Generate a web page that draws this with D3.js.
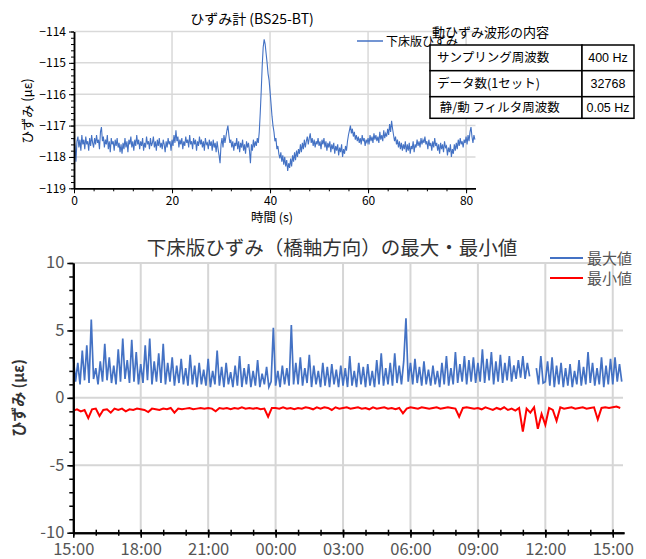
<!DOCTYPE html>
<html>
<head>
<meta charset="utf-8">
<script src="https://cdn.jsdelivr.net/npm/d3@7/dist/d3.min.js"></script>
<style>
body{margin:0;background:#fff;}
text{font-family:"Noto Sans CJK JP","Noto Sans",sans-serif;}
</style>
</head>
<body>
<script>
//top chart: dynamic strain wave, one sample every 0.2 s
var dt = 0.2;
var strainWave = [
	-117.4,-117.65,-118.15,-117.5,-117.35,-117.7,-117.45,-117.8,-117.3,-117.6,
	-117.45,-117.75,-117.35,-117.6,-117.5,-117.8,-117.4,-117.65,-117.3,-117.55,
	-117.7,-117.4,-117.6,-117.3,-117.55,-117.45,-117.75,-117.2,-117.05,-117.5,
	-117.35,-117.7,-117.45,-117.6,-117.3,-117.75,-117.5,-117.85,-117.4,-117.6,
	-117.5,-117.8,-117.45,-117.65,-117.4,-117.7,-117.55,-117.85,-117.6,-117.9,
	-117.55,-117.75,-117.4,-117.7,-117.5,-117.85,-117.45,-117.6,-117.35,-117.7,
	-117.5,-117.8,-117.45,-117.65,-117.3,-117.6,-117.45,-117.75,-117.5,-117.65,
	-117.4,-117.8,-117.55,-117.7,-117.35,-117.6,-117.5,-117.75,-117.4,-117.65,
	-117.55,-117.35,-117.7,-117.5,-117.8,-117.45,-117.65,-117.4,-117.7,-117.55,
	-117.75,-117.45,-117.6,-117.85,-117.5,-117.7,-117.4,-117.6,-117.5,-117.8,
	-117.45,-117.65,-117.3,-117.55,-117.15,-117.5,-117.35,-117.7,-117.45,-117.6,
	-117.4,-117.75,-117.5,-117.65,-117.35,-117.55,-117.45,-117.7,-117.3,-117.6,
	-117.5,-117.75,-117.4,-117.6,-117.45,-117.8,-117.5,-117.65,-117.35,-117.6,
	-117.45,-117.7,-117.5,-117.8,-117.4,-117.6,-117.55,-117.75,-117.45,-117.65,
	-117.5,-117.8,-117.45,-117.7,-117.55,-117.85,-117.5,-117.75,-117.95,-118.2,
	-117.6,-117.4,-117.7,-117.3,-117.55,-117.35,-117.15,-117.0,-117.3,-117.55,
	-117.45,-117.7,-117.5,-117.8,-117.55,-117.65,-117.4,-117.75,-117.5,-117.85,
	-117.55,-117.7,-117.45,-117.8,-117.6,-117.9,-117.5,-117.7,-117.55,-117.8,
	-118.2,-117.6,-117.8,-117.45,-117.7,-117.5,-117.65,-117.4,-117.55,-117.2,
	-116.6,-115.9,-115.1,-114.5,-114.25,-114.4,-114.7,-115.0,-115.35,-115.55,
	-115.9,-116.3,-116.7,-117.0,-117.2,-117.5,-117.4,-117.75,-117.65,-117.9,
	-118.05,-117.85,-118.15,-117.95,-118.25,-118.0,-118.3,-118.1,-118.45,-118.2,
	-118.35,-118.05,-118.3,-117.95,-118.15,-117.85,-118.1,-117.8,-118.0,-117.75,
	-117.9,-117.6,-117.85,-117.55,-117.75,-117.45,-117.7,-117.5,-117.35,-117.6,
	-117.4,-117.25,-117.55,-117.4,-117.65,-117.45,-117.7,-117.5,-117.6,-117.4,
	-117.65,-117.5,-117.75,-117.45,-117.6,-117.4,-117.7,-117.5,-117.8,-117.55,
	-117.7,-117.5,-117.85,-117.6,-117.75,-117.55,-117.9,-117.65,-117.8,-117.6,
	-117.95,-117.7,-117.85,-117.6,-118.0,-117.75,-117.9,-117.65,-117.8,-117.5,
	-117.3,-117.15,-117.0,-117.25,-117.1,-117.35,-117.2,-117.45,-117.3,-117.5,
	-117.35,-117.55,-117.4,-117.6,-117.3,-117.5,-117.4,-117.65,-117.45,-117.55,
	-117.4,-117.6,-117.3,-117.5,-117.35,-117.55,-117.25,-117.45,-117.3,-117.5,
	-117.35,-117.55,-117.2,-117.45,-117.3,-117.5,-117.15,-117.4,-117.25,-117.35,
	-117.1,-117.3,-116.95,-117.2,-116.85,-117.1,-117.3,-117.5,-117.35,-117.6,
	-117.45,-117.7,-117.5,-117.75,-117.55,-117.8,-117.6,-117.75,-117.5,-117.85,
	-117.6,-117.8,-117.55,-117.9,-117.65,-117.75,-117.5,-117.85,-117.6,-117.7,
	-117.45,-117.65,-117.5,-117.7,-117.4,-117.6,-117.45,-117.55,-117.35,-117.6,
	-117.5,-117.75,-117.45,-117.65,-117.55,-117.8,-117.5,-117.7,-117.4,-117.65,
	-117.55,-117.8,-117.6,-117.9,-117.55,-117.75,-117.6,-117.85,-117.5,-117.7,
	-117.65,-117.95,-117.7,-117.85,-117.6,-118.0,-117.75,-117.9,-117.6,-117.8,
	-117.55,-117.75,-117.45,-117.65,-117.4,-117.6,-117.5,-117.7,-117.45,-117.55,
	-117.35,-117.6,-117.3,-117.5,-117.2,-117.05,-117.35,-117.55,-117.3,-117.45
];
var waveXTicks = [0, 20, 40, 60, 80];
var waveYTicks = [-119, -118, -117, -116, -115, -114];
var tableRows = [
	["サンプリング周波数", "400 Hz"],
	["データ数(1セット)", "32768"],
	[" 静/動 フィルタ周波数", "0.05 Hz"]
];

//bottom chart: max per 6 min (hours after 15:00)
var maxStep = 0.1;
var maxStrain = [
	3.0,1.2,2.6,1.0,3.5,1.3,3.9,1.1,5.8,1.4,
	2.2,1.0,2.7,1.2,4.0,1.3,3.0,1.1,2.4,1.0,
	3.6,1.2,4.4,1.4,2.8,1.1,4.3,1.2,3.4,1.0,
	2.5,1.1,3.9,1.3,4.4,1.0,2.7,1.2,3.3,1.1,
	4.0,1.0,2.6,1.2,3.0,0.9,2.4,1.1,2.9,1.0,
	2.2,0.9,3.2,1.0,2.4,0.8,2.6,1.0,2.1,0.9,
	2.9,0.8,2.0,1.0,3.5,0.9,2.3,0.8,2.6,1.0,
	1.9,0.8,2.4,0.9,3.1,0.8,2.2,1.0,2.5,0.8,
	2.0,0.9,2.8,0.8,1.8,1.0,2.3,0.8,1.2,5.2,
	0.9,2.0,0.8,2.4,1.0,2.2,0.9,5.4,1.0,2.6,
	1.0,3.0,0.9,2.2,1.1,3.2,0.8,2.4,1.0,2.0,
	0.8,2.6,0.9,2.3,0.8,2.5,1.0,2.1,0.8,2.4,
	0.9,2.2,0.8,3.1,0.9,2.0,0.8,2.6,1.0,2.3,
	0.8,2.5,0.9,2.0,0.8,2.8,1.0,3.3,0.9,2.2,
	1.0,2.6,0.9,3.3,1.1,2.4,1.0,2.7,5.9,1.2,
	2.6,1.0,2.9,1.1,2.3,0.9,2.7,1.0,2.1,0.9,
	2.4,1.0,2.0,0.8,2.6,1.0,3.1,0.9,2.2,1.0,
	3.4,1.1,2.5,1.2,3.1,1.0,2.8,1.2,3.0,1.1,
	2.6,1.2,3.6,1.1,2.9,1.3,3.4,1.0,2.7,1.2,
	3.2,1.1,2.6,1.3,3.1,1.2,2.4,1.4,2.8,1.5,
	3.1,1.4,2.6,1.6,null,null,2.2,1.0,3.1,1.1,
	1.2,2.7,0.9,3.0,0.8,2.4,1.0,2.6,0.8,2.2,
	0.9,2.5,0.8,2.0,1.0,2.8,0.9,2.3,1.0,3.4,
	1.1,2.6,0.9,2.2,1.0,3.0,0.8,2.4,1.0,2.9,
	1.0,3.0,1.2,2.5,1.2
];
//min per 10 min
var minStep = 1 / 6;
var minStrain = [
	-0.95,-0.85,-1.0,-0.9,-1.5,-0.85,
	-0.8,-1.35,-0.9,-0.85,-1.1,-0.8,
	-0.9,-0.8,-1.0,-0.85,-0.9,-0.8,
	-0.85,-0.9,-1.05,-0.8,-0.85,-0.9,
	-0.8,-0.85,-0.75,-1.1,-0.8,-0.85,
	-0.8,-0.75,-0.85,-0.8,-0.75,-0.8,
	-0.75,-0.8,-1.0,-0.75,-0.8,-0.75,
	-0.85,-0.75,-0.8,-0.7,-0.8,-0.75,
	-0.8,-0.75,-0.85,-0.8,-1.4,-0.75,
	-0.75,-0.8,-0.7,-0.8,-0.75,-0.85,
	-0.75,-0.8,-0.7,-0.75,-0.85,-0.7,
	-0.8,-0.7,-0.75,-0.9,-0.7,-0.8,
	-0.75,-0.7,-0.8,-0.75,-0.7,-0.8,
	-0.75,-0.85,-0.7,-0.8,-0.75,-0.7,
	-0.8,-0.75,-0.85,-0.75,-1.15,-0.8,
	-0.7,-0.75,-0.8,-0.7,-0.75,-0.8,
	-0.75,-0.7,-0.8,-0.75,-0.7,-0.75,
	-0.8,-1.4,-0.75,-0.7,-0.75,-0.8,
	-0.75,-0.85,-0.7,-0.8,-0.9,-0.75,
	-0.85,-0.7,-0.9,-0.8,-0.95,-0.75,
	-2.5,-0.8,-1.1,-0.7,-2.3,-1.2,
	-2.0,-0.75,-0.9,-1.7,-0.7,-0.8,
	-0.75,-0.7,-0.8,-0.75,-0.7,-0.8,
	-0.75,-0.7,-1.6,-0.75,-0.7,-0.75,
	-0.7,-0.65,-0.75
];
var hourTicks = [0, 3, 6, 9, 12, 15, 18, 21, 24];
var hourLabels = ["15:00", "18:00", "21:00", "00:00", "03:00", "06:00", "09:00", "12:00", "15:00"];
var strainTicks = [-10, -5, 0, 5, 10];

var blue = "#4472c4", red = "#ff0000";

var svg = d3.select("body")
	.append("svg")
	.attr("width", 646)
	.attr("height", 559);

/* ---------- top chart ---------- */
var x1 = d3.scaleLinear().domain([0, 81.92]).range([74, 475.5]);
var y1 = d3.scaleLinear().domain([-119, -114]).range([188.3, 31.5]);

var waveChart = svg.append("g");

//gridlines
waveChart.selectAll(".hgrid")
	.data(waveYTicks.slice(1))
	.enter()
	.append("line")
	.attr("x1", x1(0)).attr("x2", x1(81.92))
	.attr("y1", function(d){ return y1(d); })
	.attr("y2", function(d){ return y1(d); })
	.style("stroke", "#d9d9d9").style("stroke-width", 1.5);
waveChart.selectAll(".vgrid")
	.data(waveXTicks.slice(1))
	.enter()
	.append("line")
	.attr("x1", function(d){ return x1(d); })
	.attr("x2", function(d){ return x1(d); })
	.attr("y1", y1(-119)).attr("y2", y1(-114))
	.style("stroke", "#d9d9d9").style("stroke-width", 1.5);

//wave
waveChart.append("path")
	.datum(strainWave)
	.attr("d", d3.line()
		.x(function(d, i){ return x1(i * dt); })
		.y(function(d){ return y1(d); }))
	.style("fill", "none")
	.style("stroke", blue)
	.style("stroke-width", 1.1);

//axes
waveChart.append("g")
	.attr("transform", "translate(" + x1(0) + ",0)")
	.call(d3.axisLeft(y1).tickValues(waveYTicks).tickSize(5).tickSizeOuter(0)
		.tickFormat(function(d){ return String(d).replace("-", "\u2212"); }));
waveChart.append("g")
	.attr("transform", "translate(" + x1(0) + ",0)")
	.call(d3.axisLeft(y1).tickValues(d3.range(-119, -113.95, 0.2)).tickSize(3).tickSizeOuter(0).tickFormat(""));
var waveXAxis = waveChart.append("g")
	.attr("transform", "translate(0," + y1(-119) + ")")
	.call(d3.axisBottom(x1).tickValues(waveXTicks).tickSize(5).tickSizeOuter(0));
waveChart.append("g")
	.attr("transform", "translate(0," + y1(-119) + ")")
	.call(d3.axisBottom(x1).tickValues(d3.range(0, 82, 4)).tickSize(3).tickSizeOuter(0).tickFormat(""));

waveChart.selectAll(".domain").style("stroke", "#000").style("stroke-width", 1.5);
waveChart.selectAll(".tick line").style("stroke", "#000");
waveChart.selectAll(".tick text")
	.style("font-family", "'Noto Sans CJK JP'")
	.style("font-size", "12px")
	.style("fill", "#000");
waveXAxis.selectAll(".tick text").attr("y", 8);

//titles
waveChart.append("text")
	.attr("x", 252).attr("y", 24)
	.attr("text-anchor", "middle")
	.style("font-size", "14px")
	.text("ひずみ計 (BS25-BT)");
waveChart.append("text")
	.attr("x", 272).attr("y", 222)
	.attr("text-anchor", "middle")
	.style("font-size", "12.5px")
	.text("時間 (s)");
waveChart.append("text")
	.attr("transform", "translate(32,111) rotate(-90)")
	.attr("text-anchor", "middle")
	.style("font-size", "13px")
	.text("ひずみ (με)");

//legend
waveChart.append("line")
	.attr("x1", 357).attr("x2", 383).attr("y1", 41).attr("y2", 41)
	.style("stroke", blue).style("stroke-width", 1.5);
waveChart.append("text")
	.attr("x", 386).attr("y", 46)
	.style("font-size", "12px")
	.text("下床版ひずみ");

//info table
var tbl = svg.append("g");
tbl.append("text")
	.attr("x", 432).attr("y", 37)
	.style("font-size", "13px")
	.text("動ひずみ波形の内容");
var rowY = [45, 70.7, 96.7, 118.3];
var rows = tbl.selectAll(".row")
	.data(tableRows)
	.enter()
	.append("g");
rows.append("rect")
	.attr("x", 430).attr("width", 152)
	.attr("y", function(d, i){ return rowY[i]; })
	.attr("height", function(d, i){ return rowY[i + 1] - rowY[i]; })
	.style("fill", "#fff").style("stroke", "#000").style("stroke-width", 1.5);
rows.append("rect")
	.attr("x", 582).attr("width", 52)
	.attr("y", function(d, i){ return rowY[i]; })
	.attr("height", function(d, i){ return rowY[i + 1] - rowY[i]; })
	.style("fill", "#fff").style("stroke", "#000").style("stroke-width", 1.5);
rows.append("text")
	.attr("x", 437)
	.attr("y", function(d, i){ return (rowY[i] + rowY[i + 1]) / 2 + 4.5; })
	.style("font-size", "12.5px")
	.style("white-space", "pre")
	.text(function(d){ return d[0]; });
rows.append("text")
	.attr("x", 608)
	.attr("y", function(d, i){ return (rowY[i] + rowY[i + 1]) / 2 + 4.5; })
	.attr("text-anchor", "middle")
	.style("font-family", "'Liberation Sans'")
	.style("font-size", "12.5px")
	.text(function(d){ return d[1]; });

/* ---------- bottom chart ---------- */
var x2 = d3.scaleLinear().domain([0, 24.5]).range([73.3, 624]);
var y2 = d3.scaleLinear().domain([-10, 10]).range([532.7, 263]);

var bot = svg.append("g");

bot.selectAll(".hgrid")
	.data(strainTicks.slice(1))
	.enter()
	.append("line")
	.attr("x1", x2(0)).attr("x2", 623)
	.attr("y1", function(d){ return y2(d); })
	.attr("y2", function(d){ return y2(d); })
	.style("stroke", "#d6d6d6").style("stroke-width", 2);
bot.selectAll(".vgrid")
	.data(hourTicks.slice(1))
	.enter()
	.append("line")
	.attr("x1", function(d){ return x2(d); })
	.attr("x2", function(d){ return x2(d); })
	.attr("y1", y2(-10)).attr("y2", y2(10))
	.style("stroke", "#d6d6d6").style("stroke-width", 2);

//max & min lines
bot.append("path")
	.datum(maxStrain)
	.attr("d", d3.line()
		.defined(function(d){ return d !== null; })
		.x(function(d, i){ return x2(i * maxStep); })
		.y(function(d){ return y2(d); }))
	.style("fill", "none")
	.style("stroke", blue)
	.style("stroke-width", 1.7);
bot.append("path")
	.datum(minStrain)
	.attr("d", d3.line()
		.x(function(d, i){ return x2(i * minStep); })
		.y(function(d){ return y2(d); }))
	.style("fill", "none")
	.style("stroke", red)
	.style("stroke-width", 2);

//axes
var botYAxis = bot.append("g")
	.attr("transform", "translate(" + x2(0) + ",0)")
	.call(d3.axisLeft(y2).tickValues(strainTicks).tickSize(6).tickSizeOuter(0)
		.tickFormat(function(d){ return String(d); }));
bot.append("g")
	.attr("transform", "translate(" + x2(0) + ",0)")
	.call(d3.axisLeft(y2).tickValues(d3.range(-10, 10.5, 1)).tickSize(4).tickSizeOuter(0).tickFormat(""));
var botXAxis = bot.append("g")
	.attr("transform", "translate(0," + y2(-10) + ")")
	.call(d3.axisBottom(x2).tickValues(hourTicks).tickSize(5).tickSizeOuter(0)
		.tickFormat(function(d, i){ return hourLabels[i]; }));
var botXMinor = bot.append("g")
	.attr("transform", "translate(0," + y2(-10) + ")")
	.call(d3.axisBottom(x2).tickValues(d3.range(0, 24.5, 1)).tickSize(3).tickSizeOuter(0).tickFormat(""));

bot.selectAll(".domain").style("stroke", "#000").style("stroke-width", 2);
bot.selectAll(".tick line").style("stroke", "#000").style("stroke-width", 1.5);
botXAxis.selectAll(".tick line").attr("y1", -3);
botXMinor.selectAll(".tick line").attr("y1", -3);
bot.selectAll(".tick text")
	.style("font-family", "'Noto Sans CJK JP'")
	.style("font-size", "16.5px")
	.style("fill", "#555");
botXAxis.selectAll(".tick text").attr("y", 11);
botYAxis.selectAll(".tick text").attr("x", -9).attr("dy", "0.3em");

//title, axis label
bot.append("text")
	.attr("x", 332).attr("y", 255)
	.attr("text-anchor", "middle")
	.style("font-size", "19.5px")
	.style("fill", "#333")
	.text("下床版ひずみ（橋軸方向）の最大・最小値");
bot.append("text")
	.attr("transform", "translate(24,398) rotate(-90)")
	.attr("text-anchor", "middle")
	.style("font-size", "15px")
	.style("font-weight", "bold")
	.style("fill", "#333")
	.text("ひずみ (με)");

//legend
var legend = [["最大値", blue], ["最小値", red]];
var leg = bot.selectAll(".leg")
	.data(legend)
	.enter()
	.append("g")
	.attr("transform", function(d, i){ return "translate(550," + (258 + i * 20) + ")"; });
leg.append("line")
	.attr("x1", 0).attr("x2", 33)
	.style("stroke", function(d){ return d[1]; })
	.style("stroke-width", 2);
leg.append("text")
	.attr("x", 37).attr("y", 5.5)
	.style("font-size", "15px")
	.style("fill", "#555")
	.text(function(d){ return d[0]; });
</script>
</body>
</html>
